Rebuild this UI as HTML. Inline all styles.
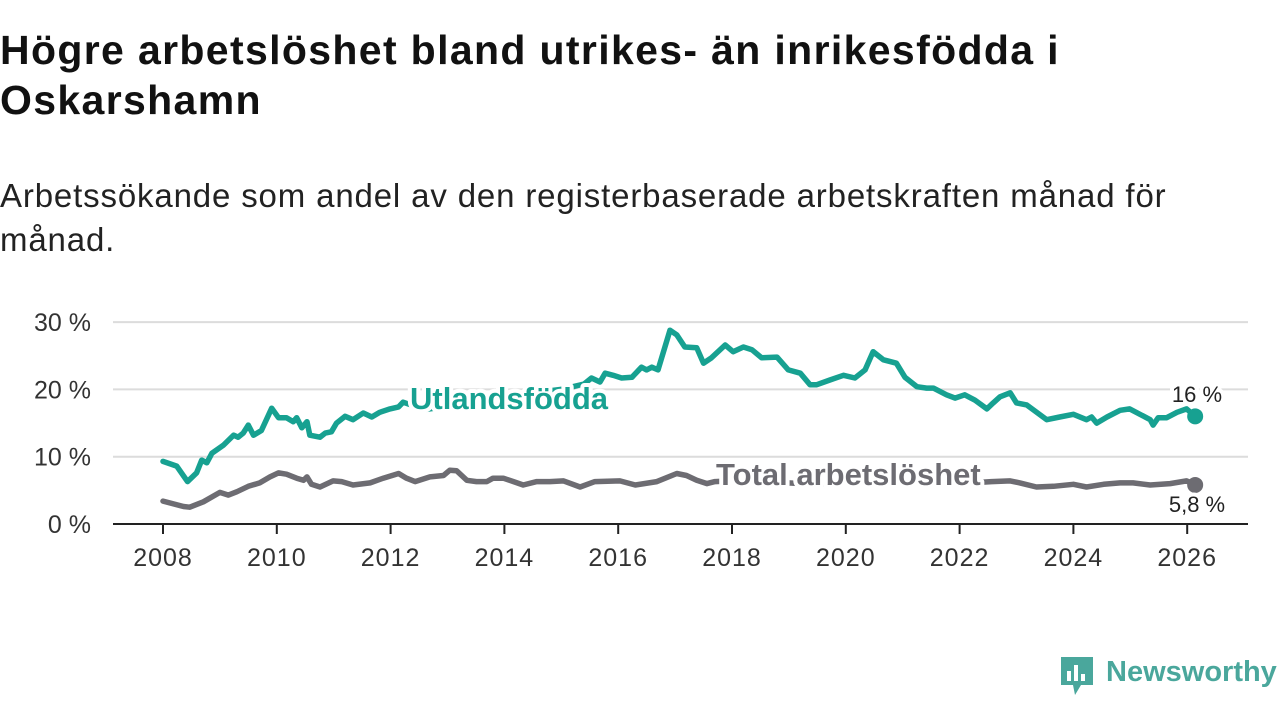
<!DOCTYPE html>
<html><head><meta charset="utf-8">
<style>
html,body{margin:0;padding:0;background:#fff;width:1280px;height:720px;overflow:hidden;font-family:"Liberation Sans",sans-serif;}
.title{position:absolute;left:0;top:25px;font-size:41px;letter-spacing:1.35px;font-weight:bold;color:#111;line-height:50px;white-space:nowrap;}
.sub{position:absolute;left:0;top:174px;font-size:33px;letter-spacing:0.85px;color:#222;line-height:44px;white-space:nowrap;}
svg{position:absolute;left:0;top:0;}
</style></head><body>
<div class="title">Högre arbetslöshet bland utrikes- än inrikesfödda i<br>Oskarshamn</div>
<div class="sub">Arbetssökande som andel av den registerbaserade arbetskraften månad för<br>månad.</div>
<svg id="chart" width="1280" height="720"></svg>
<script>
const yTicks=[0,10,20,30];
const yTickLabels=["0 %","10 %","20 %","30 %"];
const xTicks=[2008,2010,2012,2014,2016,2018,2020,2022,2024,2026];
const foreignYears=[2008.0,2008.24,2008.43,2008.59,2008.68,2008.77,2008.86,2009.06,2009.24,2009.32,2009.41,2009.5,2009.59,2009.73,2009.91,2010.03,2010.17,2010.29,2010.35,2010.44,2010.53,2010.58,2010.76,2010.85,2010.96,2011.05,2011.2,2011.34,2011.52,2011.67,2011.81,2011.99,2012.14,2012.22,2012.6,2013.0,2013.5,2014.0,2014.5,2015.0,2015.4,2015.53,2015.68,2015.77,2015.91,2016.06,2016.24,2016.41,2016.5,2016.59,2016.7,2016.91,2017.03,2017.17,2017.38,2017.5,2017.64,2017.88,2018.02,2018.2,2018.35,2018.52,2018.79,2018.99,2019.2,2019.37,2019.49,2019.72,2019.96,2020.16,2020.34,2020.48,2020.66,2020.89,2021.04,2021.25,2021.42,2021.54,2021.77,2021.92,2022.09,2022.27,2022.48,2022.59,2022.71,2022.89,2023.0,2023.18,2023.53,2023.76,2024.0,2024.23,2024.32,2024.41,2024.59,2024.82,2024.99,2025.35,2025.4,2025.49,2025.64,2025.82,2025.99,2026.14];
const foreignValues=[9.3,8.6,6.3,7.6,9.5,9.1,10.5,11.7,13.2,12.9,13.5,14.7,13.2,13.9,17.2,15.8,15.8,15.2,15.8,14.3,15.2,13.2,12.9,13.5,13.7,15.0,16.0,15.5,16.5,15.9,16.6,17.1,17.4,18.1,17.0,17.5,18.0,18.5,19.5,20.0,20.8,21.7,21.1,22.4,22.1,21.7,21.8,23.3,22.9,23.3,22.9,28.8,28.1,26.3,26.2,23.9,24.7,26.6,25.6,26.3,25.9,24.7,24.8,22.9,22.4,20.7,20.7,21.4,22.1,21.7,22.9,25.6,24.4,23.9,21.8,20.4,20.2,20.2,19.2,18.7,19.2,18.4,17.1,18.0,18.9,19.5,18.0,17.7,15.5,15.9,16.3,15.5,15.9,15.0,15.9,16.9,17.1,15.5,14.7,15.8,15.8,16.6,17.1,16.0];
const totalYears=[2008.0,2008.36,2008.47,2008.71,2009.0,2009.15,2009.3,2009.5,2009.7,2009.88,2010.03,2010.17,2010.35,2010.47,2010.53,2010.61,2010.76,2010.99,2011.14,2011.34,2011.64,2011.87,2012.14,2012.28,2012.43,2012.69,2012.93,2013.04,2013.16,2013.34,2013.51,2013.69,2013.8,2013.98,2014.16,2014.33,2014.57,2014.8,2015.04,2015.33,2015.59,2016.03,2016.3,2016.68,2017.03,2017.2,2017.38,2017.56,2017.7,2018.2,2018.8,2019.4,2020.0,2020.5,2021.0,2021.5,2022.0,2022.56,2022.89,2023.06,2023.35,2023.65,2024.0,2024.23,2024.53,2024.82,2025.05,2025.35,2025.7,2025.99,2026.14];
const totalValues=[3.4,2.6,2.5,3.3,4.7,4.3,4.8,5.6,6.1,7.0,7.6,7.4,6.8,6.5,7.0,5.9,5.5,6.4,6.3,5.8,6.1,6.8,7.5,6.8,6.3,7.0,7.2,8.0,7.9,6.5,6.3,6.3,6.8,6.8,6.3,5.8,6.3,6.3,6.4,5.5,6.3,6.4,5.8,6.3,7.5,7.2,6.5,6.0,6.3,6.5,6.2,5.9,6.2,7.8,7.0,6.3,6.0,6.3,6.4,6.1,5.5,5.6,5.9,5.5,5.9,6.1,6.1,5.8,6.0,6.4,5.8];

const NS="http://www.w3.org/2000/svg";
const svg=document.getElementById('chart');
const X=yr=>163+(yr-2008)*56.9;
const Y=v=>524-v*6.73;
function mk(tag,attrs,parent){const e=document.createElementNS(NS,tag);for(const k in attrs)e.setAttribute(k,attrs[k]);(parent||svg).appendChild(e);return e;}

yTicks.forEach((t,i)=>{
  if(t>0){const g=mk('line',{x1:113,x2:1248,y1:Y(t),y2:Y(t),stroke:'#dcdcdc','stroke-width':2});
  
  }
  const l=mk('text',{x:91,y:Y(t)+9,'text-anchor':'end','font-size':25,fill:'#333'});
  l.textContent=yTickLabels[i];
  
  
});
const ax=mk('line',{x1:113,x2:1248,y1:524,y2:524,stroke:'#222','stroke-width':2});


xTicks.forEach(t=>{
  const tk=mk('line',{x1:X(t),x2:X(t),y1:524,y2:534,stroke:'#222','stroke-width':2});
  
  
  const l=mk('text',{x:X(t),y:566,'text-anchor':'middle','font-size':25,'letter-spacing':1,fill:'#333'});
  l.textContent=t;
  
  
});
function line(xs,vs,color,name){
  const d=xs.map((x,i)=>(i?'L':'M')+X(x).toFixed(1)+','+Y(vs[i]).toFixed(1)).join(' ');
  const p=mk('path',{d:d,fill:'none',stroke:color,'stroke-width':5.5,'stroke-linejoin':'round','stroke-linecap':'round'});
  
  
  const c=mk('circle',{cx:X(xs[xs.length-1]),cy:Y(vs[vs.length-1]),r:8,fill:color});
  
  
}
line(totalYears,totalValues,'#6d6c72','total');
line(foreignYears,foreignValues,'#17a191','foreign');
function label(x,y,txt,color,size,weight,anchor,name){
  const t=mk('text',{x:x,y:y,fill:color,'font-size':size,'font-weight':weight,'text-anchor':anchor,stroke:'#fff','stroke-width':8,'paint-order':'stroke','stroke-linejoin':'round'});
  t.textContent=txt;
  
  
}
label(410,409,'Utlandsfödda','#17a191',31,'bold','start','series-label-foreign');
label(716,485,'Total arbetslöshet','#6d6c72',31,'bold','start','series-label-total');
label(1197,402,'16 %','#222',22,'normal','middle','end-value-foreign');
label(1197,512,'5,8 %','#222',22,'normal','middle','end-value-total');
</script>
<div style="position:absolute;left:1059px;top:655px;width:220px;height:42px;">
<svg width="36" height="42" style="position:absolute;left:0;top:0">
<path d="M2 2 H34 V30 H22 L16 40 L14 30 H2 Z" fill="#4aa79c"/>
<rect x="8" y="16" width="4" height="10" fill="#fff"/><rect x="15" y="10" width="4" height="16" fill="#fff"/><rect x="22" y="19" width="4" height="7" fill="#fff"/>
</svg>
<span style="position:absolute;left:47px;top:0;font-size:29px;color:#4aa79c;font-weight:bold;line-height:34px;">Newsworthy</span>
</div>
</body></html>
